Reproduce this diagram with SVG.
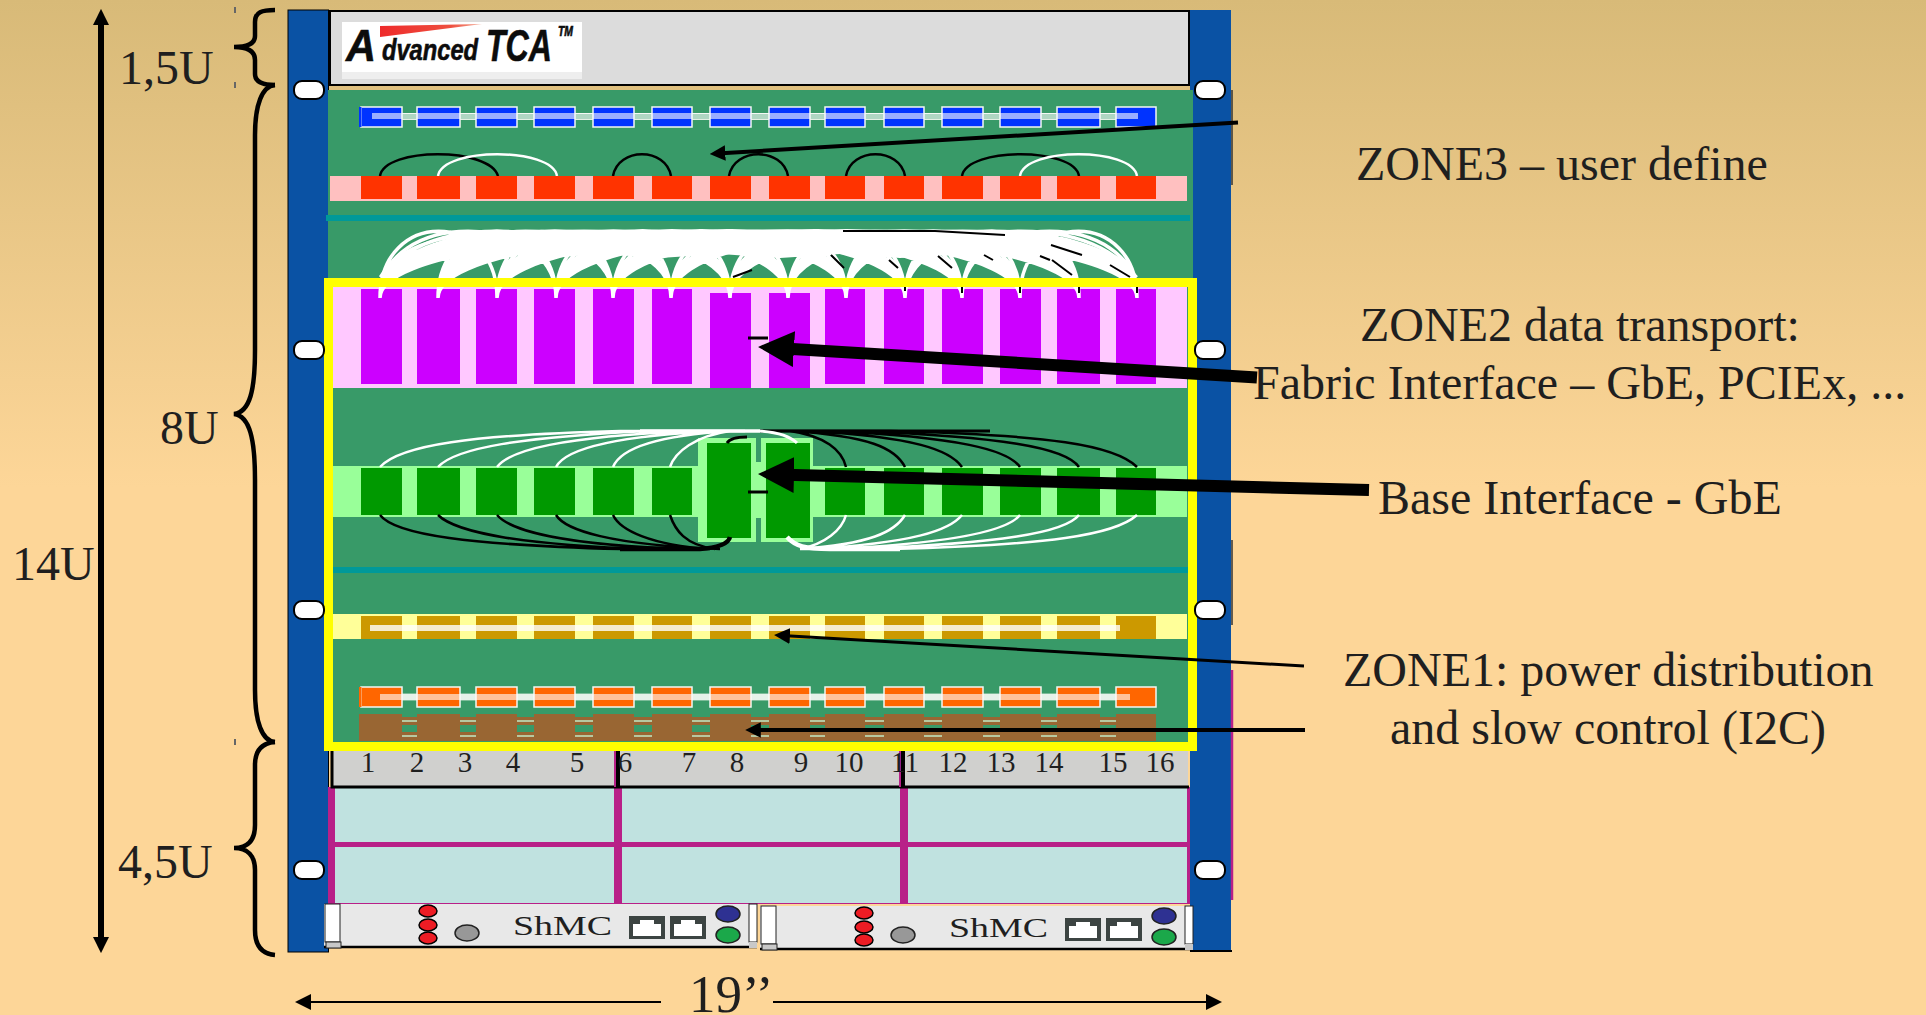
<svg xmlns="http://www.w3.org/2000/svg" width="1926" height="1015" viewBox="0 0 1926 1015">
<style>
.t{font-family:"Liberation Serif","Times New Roman",serif;fill:#1f1f1f}
.lbl{font-size:48px}
.dim{font-size:48px}
.num{font-size:29px;text-anchor:middle}
.box{stroke:#f2f6f2;stroke-width:1.5}
.w{fill:none;stroke:#fff;stroke-width:2.5}
.k{fill:none;stroke:#000;stroke-width:2.5}
.hole{fill:#fff;stroke:#000;stroke-width:2}
.a{stroke:#000;fill:none}
.stripe{fill:#fff;opacity:.6}
.logo{font-family:"Liberation Sans",Arial,sans-serif;font-weight:bold;font-style:italic;fill:#0c0c0c;stroke:#0c0c0c;stroke-width:.6}
</style>
<defs>
<linearGradient id="bg" x1="0" y1="0" x2="0" y2="1"><stop offset="0" stop-color="#d8ba78"/><stop offset=".48" stop-color="#fdd698"/><stop offset="1" stop-color="#fdd698"/></linearGradient>
<linearGradient id="sw" x1="0" y1="0" x2="1" y2="0"><stop offset="0" stop-color="#ee2a2a"/><stop offset=".7" stop-color="#ee5040"/><stop offset="1" stop-color="#f5b09a"/></linearGradient>
<path id="cols" d="M361 0h41v1h-41zM417 0h43v1h-43zM476 0h41v1h-41zM534 0h41v1h-41zM593 0h41v1h-41zM652 0h40v1h-40zM710 0h41v1h-41zM769 0h41v1h-41zM825 0h40v1h-40zM884 0h40v1h-40zM942 0h41v1h-41zM1000 0h41v1h-41zM1057 0h43v1h-43zM1116 0h40v1h-40z"/>
<path id="ports" d="M361 0h41v20h-41zM417 0h43v20h-43zM476 0h41v20h-41zM534 0h41v20h-41zM593 0h41v20h-41zM652 0h40v20h-40zM710 0h41v20h-41zM769 0h41v20h-41zM825 0h40v20h-40zM884 0h40v20h-40zM942 0h41v20h-41zM1000 0h41v20h-41zM1057 0h43v20h-43zM1116 0h40v20h-40z"/>
<marker id="m3" viewBox="0 0 10 10" refX="5" refY="5" markerWidth="3" markerHeight="3" orient="auto-start-reverse"><path d="M0 0L10 5L0 10z"/></marker>
<marker id="m27" viewBox="0 0 10 10" refX="5" refY="5" markerWidth="2.7" markerHeight="2.7" orient="auto-start-reverse"><path d="M0 0L10 5L0 10z"/></marker>
<marker id="m4" viewBox="0 0 10 10" refX="5" refY="5" markerWidth="3.9" markerHeight="3.9" orient="auto-start-reverse"><path d="M0 0L10 5L0 10z"/></marker>
<marker id="m5" viewBox="0 0 10 10" refX="5" refY="5" markerWidth="5.3" markerHeight="5.3" orient="auto-start-reverse"><path d="M0 0L10 5L0 10z"/></marker>
<marker id="m8" viewBox="0 0 10 10" refX="5" refY="5" markerWidth="8" markerHeight="8" orient="auto-start-reverse"><path d="M0 0L10 5L0 10z"/></marker>
<g id="shmc">
<rect x="324" y="904" width="433" height="44" fill="#e8e8e8"/>
<path d="M324 947H757" stroke="#000" stroke-width="2.5"/>
<rect x="325" y="904" width="15" height="38" fill="#fff" stroke="#222" stroke-width="1"/>
<rect x="326" y="942" width="15" height="6" fill="#c8c8c8" stroke="#222" stroke-width="1"/>
<rect x="749" y="904" width="8" height="38" fill="#fff" stroke="#222" stroke-width="1"/>
<rect x="749" y="942" width="8" height="6" fill="#c8c8c8"/>
<g fill="#ed1c24" stroke="#000" stroke-width="1.5"><ellipse cx="428" cy="911" rx="9" ry="6"/><ellipse cx="428" cy="925" rx="9" ry="6"/><ellipse cx="428" cy="938" rx="9" ry="6"/></g>
<ellipse cx="467" cy="933" rx="12" ry="8" fill="#989898" stroke="#222" stroke-width="1.5"/>
<rect x="629" y="916" width="36" height="23" fill="#3c4442"/><path d="M633 936h28v-12h-7v-4h-14v4h-7z" fill="#fff"/>
<rect x="670" y="916" width="36" height="23" fill="#3c4442"/><path d="M674 936h28v-12h-7v-4h-14v4h-7z" fill="#fff"/>
<ellipse cx="728" cy="914" rx="12" ry="8" fill="#2e3192" stroke="#222" stroke-width="1.5"/>
<ellipse cx="728" cy="935" rx="12" ry="8" fill="#1ba84a" stroke="#222" stroke-width="1.5"/>
</g>
</defs>
<rect id="background" width="1926" height="1015" fill="url(#bg)"/>
<g id="rack-rails">
<rect x="288" y="10" width="40.500" height="942" fill="#0a52a4" stroke="#000" stroke-width="1"/>
<rect x="1190" y="10" width="41" height="942" fill="#0a52a4"/>
<path d="M1232 90V185M1232 540V625" stroke="#333" stroke-width="1.500"/>
<path d="M1232 670V900" stroke="#b82088" stroke-width="2.500"/>
<path d="M1190 951H1232" stroke="#000" stroke-width="2"/>
</g>
<g id="header">
<rect x="330" y="11" width="859" height="74" fill="#dcdcdc" stroke="#000" stroke-width="2"/>
<g id="logo">
<rect x="342" y="22" width="240" height="50" fill="#fff"/><rect x="342" y="72" width="240" height="7" fill="#eee"/>
<path d="M380 26L482 24L380 37z" fill="url(#sw)"/>
<text x="346" y="61" font-size="44" textLength="30" lengthAdjust="spacingAndGlyphs" class="logo">A</text>
<text x="382" y="60" font-size="30" textLength="96" lengthAdjust="spacingAndGlyphs" class="logo">dvanced</text>
<text x="486" y="61" font-size="44" textLength="66" lengthAdjust="spacingAndGlyphs" class="logo">TCA</text>
<text x="558" y="36" font-size="14" textLength="15" lengthAdjust="spacingAndGlyphs" class="logo">TM</text>
</g>
</g>
<rect id="backplane" x="328" y="90" width="865" height="655" fill="#389a68"/>
<g id="zone3">
<path d="M360 113.500H1155M360 119.500H1155" stroke="#e4efe4" stroke-width="1"/>
<use href="#ports" y="107" fill="#0033ff" class="box"/>
<rect x="359" y="107" width="2.500" height="20" fill="#0033ff"/>
<rect x="372" y="113" width="766" height="6" class="stripe"/>
<rect x="1138" y="108" width="17" height="18" fill="#0033ff"/>
<rect x="362" y="108" width="10" height="18" fill="#0033ff"/>
<path d="M380 176C385 147 490 147 498 176M613 176C618 147 666 147 671 176M729 176C734 147 783 147 788 176M846 176C851 147 900 147 905 176M962 176C967 147 1074 147 1079 176" class="k"/>
<path d="M438 176C443 147 552 147 557 176M1020 176C1025 147 1132 147 1137 176" class="w"/>
<rect x="330" y="176" width="857" height="25" fill="#ffc0c0"/>
<use href="#cols" transform="translate(0,176) scale(1,23)" fill="#ff3300"/>
</g>
<rect id="divider-top" x="326" y="215" width="864" height="6" fill="#009999"/>
<g id="fabric-interface">
<rect x="333" y="287" width="854" height="101" fill="#ffc8ff"/>
<path d="M361 289h41v95h-41zM417 289h43v95h-43zM476 289h41v95h-41zM534 289h41v95h-41zM593 289h41v95h-41zM652 289h40v95h-40zM710 293h41v95h-41zM769 293h41v95h-41zM825 289h40v95h-40zM884 289h40v95h-40zM942 289h41v95h-41zM1000 289h41v95h-41zM1057 289h43v95h-43zM1116 289h40v95h-40z" fill="#cc00ff"/>
<path class="w" style="stroke-width:3.5" d="M380 298C380 209 497 209 497 298M380 298C380 209 556 209 556 298M380 298C380 209 613 209 613 298M380 298C380 209 671 209 671 298M380 298C380 209 730 209 730 298M380 298C380 209 788 209 788 298M380 298C380 209 846 209 846 298M380 298C380 209 905 209 905 298M380 298C380 209 962 209 962 298M380 298C380 209 1020 209 1020 298M380 298C380 209 1079 209 1079 298M380 298C380 209 1137 209 1137 298M438 298C438 209 556 209 556 298M438 298C438 209 613 209 613 298M438 298C438 209 671 209 671 298M438 298C438 209 730 209 730 298M438 298C438 209 788 209 788 298M438 298C438 209 846 209 846 298M438 298C438 209 905 209 905 298M438 298C438 209 962 209 962 298M438 298C438 209 1020 209 1020 298M438 298C438 209 1079 209 1079 298M438 298C438 209 1137 209 1137 298M497 298C497 209 613 209 613 298M497 298C497 209 671 209 671 298M497 298C497 209 730 209 730 298M497 298C497 209 788 209 788 298M497 298C497 209 846 209 846 298M497 298C497 209 905 209 905 298M497 298C497 209 962 209 962 298M497 298C497 209 1020 209 1020 298M497 298C497 209 1079 209 1079 298M497 298C497 209 1137 209 1137 298M556 298C556 209 671 209 671 298M556 298C556 209 730 209 730 298M556 298C556 209 788 209 788 298M556 298C556 209 846 209 846 298M556 298C556 209 905 209 905 298M556 298C556 209 962 209 962 298M556 298C556 209 1020 209 1020 298M556 298C556 209 1079 209 1079 298M556 298C556 209 1137 209 1137 298M613 298C613 209 730 209 730 298M613 298C613 209 788 209 788 298M613 298C613 209 846 209 846 298M613 298C613 209 905 209 905 298M613 298C613 209 962 209 962 298M613 298C613 209 1020 209 1020 298M613 298C613 209 1079 209 1079 298M613 298C613 209 1137 209 1137 298M671 298C671 209 788 209 788 298M671 298C671 209 846 209 846 298M671 298C671 209 905 209 905 298M671 298C671 209 962 209 962 298M671 298C671 209 1020 209 1020 298M671 298C671 209 1079 209 1079 298M671 298C671 209 1137 209 1137 298M730 298C730 209 846 209 846 298M730 298C730 209 905 209 905 298M730 298C730 209 962 209 962 298M730 298C730 209 1020 209 1020 298M730 298C730 209 1079 209 1079 298M730 298C730 209 1137 209 1137 298M788 298C788 209 905 209 905 298M788 298C788 209 962 209 962 298M788 298C788 209 1020 209 1020 298M788 298C788 209 1079 209 1079 298M788 298C788 209 1137 209 1137 298M846 298C846 209 962 209 962 298M846 298C846 209 1020 209 1020 298M846 298C846 209 1079 209 1079 298M846 298C846 209 1137 209 1137 298M905 298C905 209 1020 209 1020 298M905 298C905 209 1079 209 1079 298M905 298C905 209 1137 209 1137 298M962 298C962 209 1079 209 1079 298M962 298C962 209 1137 209 1137 298M1020 298C1020 209 1137 209 1137 298"/>
<path class="w" d="M380 277C395 252 425 238 470 236L560 232H960C1050 233 1105 240 1137 277M400 262C430 244 470 242 520 238M1120 262C1090 245 1050 242 1000 238"/>
<path d="M470 243L540 232H1010L1085 250L1020 258L960 254L900 258L840 254L780 258L720 254L660 258L600 254L550 258z" fill="#fff"/>
<path class="k" style="stroke-width:2" d="M843 231H935L1005 235M1051 245L1082 255M1110 265L1130 277M1052 260L1072 275M1040 256L1050 260M984 255L993 260M938 256L952 268M889 260L898 268M831 255L844 268M733 277L752 270M962 287V293M1020 287V293M1079 287V293M1137 287V293M905 287V291"/>
<path d="M748 338H768" stroke="#000" stroke-width="3"/>
</g>
<g id="base-interface">
<path d="M698 438H756V462H761V438H813V542H761V518H756V542H698z" fill="#99ff99"/>
<rect x="333" y="466" width="854" height="51" fill="#99ff99"/>
<rect x="756" y="438" width="5" height="24" fill="#389a68"/><rect x="756" y="518" width="5" height="24" fill="#389a68"/>
<path d="M361 468h41v47h-41zM417 468h43v47h-43zM476 468h41v47h-41zM534 468h41v47h-41zM593 468h41v47h-41zM652 468h40v47h-40zM707 443h44v95h-44zM766 443h44v95h-44zM825 468h40v47h-40zM884 468h40v47h-40zM942 468h41v47h-41zM1000 468h41v47h-41zM1057 468h43v47h-43zM1116 468h40v47h-40z" fill="#009900"/>
<path class="w" d="M380 467C400 445 470 435 620 431H745M438 467C455 448 520 437 650 431M497 467C510 450 560 437 690 431M556 467C565 450 610 436 720 431M613 467C620 450 650 436 730 431M670 467C675 452 695 436 730 431M1137 515C1115 535 1050 545 890 549H800M1079 515C1065 533 1000 543 860 549M1020 515C1008 530 960 543 830 549M962 515C950 530 915 543 810 549M905 515C895 532 870 544 800 549M846 515C842 530 825 544 800 549"/>
<path class="k" d="M380 515C395 535 470 545 620 549H710M438 515C455 532 520 545 650 549M497 515C510 530 560 545 690 549M556 515C565 530 610 545 720 549M613 515C620 530 650 545 710 549M670 515C675 530 685 545 715 549M1137 467C1115 445 1050 435 890 431H760M1079 467C1065 447 1000 437 860 431M1020 467C1008 450 960 437 830 431M962 467C950 450 915 437 810 431M905 467C895 448 870 436 790 431M846 467C842 450 825 436 790 431"/>
<path d="M640 431H760" stroke="#fff" stroke-width="3.500" fill="none"/>
<path d="M760 431H990" stroke="#000" stroke-width="3" fill="none"/>
<path d="M620 549H700C715 548 728 545 730 537" stroke="#000" stroke-width="4.500" fill="none"/>
<path d="M787 537C795 546 805 549 830 549H900" stroke="#fff" stroke-width="4.500" fill="none"/>
<path d="M760 431C775 432 790 436 797 443" stroke="#fff" stroke-width="3" fill="none"/>
<path d="M727 443C730 438 738 437 747 437" stroke="#000" stroke-width="3" fill="none"/>
<path d="M748 492H768" stroke="#000" stroke-width="3"/>
</g>
<rect id="divider-bottom" x="333" y="567" width="857" height="6" fill="#009999"/>
<g id="zone1">
<rect x="333" y="614" width="854" height="25" fill="#ffff99"/>
<use href="#cols" transform="translate(0,616) scale(1,23)" fill="#cc9900"/>
<rect x="370" y="625" width="750" height="6" fill="#fff" opacity=".8"/>
<path d="M360 697H1155" stroke="#e4efe4" stroke-width="7" opacity=".8"/>
<use href="#ports" y="687" fill="#ff6600" class="box"/>
<rect x="359" y="687" width="2.500" height="20" fill="#ff6600"/>
<rect x="380" y="694" width="750" height="6" class="stripe"/>
<rect x="362" y="688" width="18" height="18" fill="#ff6600"/>
<rect x="1130" y="688" width="25" height="18" fill="#ff6600"/>
<rect x="359" y="717" width="797" height="24" fill="#996633"/>
<path d="M359 721H1156M359 736H1156" stroke="#b7c8a0" stroke-width="2"/>
<path d="M359 728.500H1156" stroke="#389a68" stroke-width="7"/>
<path d="M359 714h43v27h-43z" fill="#996633"/>
<use href="#cols" transform="translate(0,714) scale(1,27)" fill="#996633"/>
</g>
<g id="lower-subrack">
<rect x="328" y="787" width="862" height="117" fill="#b82088"/>
<g fill="#c0e2e0"><rect x="335" y="788" width="279" height="54"/><rect x="335" y="847" width="279" height="56"/><rect x="622" y="788" width="278" height="54"/><rect x="622" y="847" width="278" height="56"/><rect x="908" y="788" width="279" height="54"/><rect x="908" y="847" width="279" height="56"/></g>
<rect x="332" y="745" width="856" height="42" fill="#d0d0ce"/>
<path d="M332 751V787H1189" fill="none" stroke="#000" stroke-width="3"/>
<path d="M618 751V787M903 751V787" stroke="#000" stroke-width="4"/>
<path d="M615 751V787M900 751V787" stroke="#b82088" stroke-width="2"/>
</g>
<g id="slot-numbers" class="t num">
<text x="368" y="772">1</text><text x="417" y="772">2</text><text x="465" y="772">3</text><text x="513" y="772">4</text><text x="577" y="772">5</text><text x="625" y="772">6</text><text x="689" y="772">7</text><text x="737" y="772">8</text><text x="801" y="772">9</text><text x="849" y="772">10</text><text x="905" y="772">11</text><text x="953" y="772">12</text><text x="1001" y="772">13</text><text x="1049" y="772">14</text><text x="1113" y="772">15</text><text x="1160" y="772">16</text>
</g>
<rect id="zone2-frame" x="328.500" y="282.500" width="864" height="464" fill="none" stroke="#ffff00" stroke-width="9"/>
<g id="rail-holes">
<rect x="294" y="81" width="30" height="18" rx="8" class="hole"/><rect x="294" y="341" width="30" height="18" rx="8" class="hole"/><rect x="294" y="601" width="30" height="18" rx="8" class="hole"/><rect x="294" y="861" width="30" height="18" rx="8" class="hole"/>
<rect x="1195" y="81" width="30" height="18" rx="8" class="hole"/><rect x="1195" y="341" width="30" height="18" rx="8" class="hole"/><rect x="1195" y="601" width="30" height="18" rx="8" class="hole"/><rect x="1195" y="861" width="30" height="18" rx="8" class="hole"/>
</g>
<g id="shmc-left"><use href="#shmc"/><text x="513" y="935" font-size="28" textLength="99" lengthAdjust="spacingAndGlyphs" class="t">ShMC</text></g>
<g id="shmc-right"><use href="#shmc" transform="translate(436,2)"/><text x="949" y="937" font-size="28" textLength="99" lengthAdjust="spacingAndGlyphs" class="t">ShMC</text></g>
<g id="dimension-braces" fill="none" stroke="#000" stroke-width="4.500">
<path d="M275 10C262 10 255 12 255 22V36C255 43 248 47 234 47C248 47 255 51 255 60V74C255 82 262 85 275 85"/>
<path d="M275 85C262 86 255 105 255 135V350C255 390 250 412 234 414C250 416 255 440 255 480V690C255 722 262 741 275 742"/>
<path d="M275 742C262 743 255 750 255 765V825C255 840 248 848 234 848C248 848 255 856 255 870V930C255 946 262 954 275 955"/>
</g>
<g id="dimension-ticks" fill="#666"><rect x="234" y="7" width="2" height="6"/><rect x="234" y="82" width="2" height="6"/><rect x="234" y="739" width="2" height="6"/></g>
<g id="connectors">
<path class="a" d="M1238 122.500L717.500 153.500" stroke-width="4" marker-end="url(#m4)"/>
<path class="a" d="M1257 377.500L776 348" stroke-width="12" marker-end="url(#m3)"/>
<path class="a" d="M1369 490L776 474.500" stroke-width="12" marker-end="url(#m3)"/>
<path class="a" d="M1304 666L782 635.500" stroke-width="3" marker-end="url(#m5)"/>
<path class="a" d="M1305 730H753" stroke-width="4" marker-end="url(#m4)"/>
<path class="a" d="M101 17V945" stroke-width="6" marker-start="url(#m27)" marker-end="url(#m27)"/>
<path class="a" d="M661 1002H303" stroke-width="2" marker-end="url(#m8)"/>
<path class="a" d="M773 1002H1214" stroke-width="2" marker-end="url(#m8)"/>
</g>
<g id="labels" class="t">
<text x="119" y="84" class="dim">1,5U</text>
<text x="160" y="444" class="dim">8U</text>
<text x="12" y="580" class="dim">14U</text>
<text x="118" y="878" class="dim">4,5U</text>
<text x="689" y="1012" font-size="53">19’’</text>
<text x="1356" y="180" class="lbl">ZONE3 – user define</text>
<text x="1360" y="341" class="lbl">ZONE2 data transport:</text>
<text x="1253" y="399" class="lbl">Fabric Interface – GbE, PCIEx, ...</text>
<text x="1378" y="514" class="lbl">Base Interface - GbE</text>
<text x="1343" y="686" class="lbl">ZONE1: power distribution</text>
<text x="1390" y="744" class="lbl">and slow control (I2C)</text>
</g>
</svg>
